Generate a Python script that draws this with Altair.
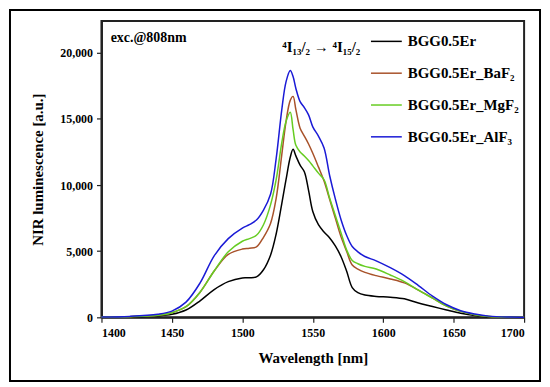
import altair as alt
import pandas as pd

wavelength = [1400, 1420, 1440, 1450, 1460, 1470, 1480, 1490, 1500, 1505, 1510, 1515,
              1520, 1524, 1528, 1531, 1534, 1536, 1538, 1541, 1544, 1547, 1550, 1554,
              1558, 1562, 1566, 1570, 1574, 1578, 1582, 1587, 1595, 1605, 1615, 1625,
              1635, 1645, 1655, 1665, 1675, 1690, 1700]

bgg = [15, 40, 110, 225, 550, 1250, 2100, 2700, 2980, 2990, 3060, 3600,
       4700, 6300, 8600, 10400, 12100, 12700, 12200, 11500, 11000, 9600, 8000, 7000,
       6450, 6000, 5400, 4600, 3500, 2250, 1860, 1680, 1580, 1520, 1400, 1080,
       820, 550, 300, 130, 45, 12, 5]

baf2 = [20, 50, 160, 350, 800, 1900, 3500, 4750, 5160, 5220, 5320, 6050,
        7100, 9000, 12300, 14800, 16400, 16700, 15700, 14300, 13700, 13100, 12400, 11370,
        10300, 8900, 7500, 6100, 5000, 3950, 3650, 3400, 3150, 2900, 2600, 2050,
        1450, 850, 450, 200, 70, 15, 5]

mgf2 = [20, 50, 160, 350, 800, 1900, 3500, 4950, 5750, 5950, 6200, 7000,
        8500, 10400, 13200, 14800, 15500, 14200, 13000, 12500, 12200, 11850, 11450, 10900,
        10400, 9000, 7700, 6400, 5100, 4300, 4050, 3850, 3650, 3200, 2700, 2050,
        1450, 850, 450, 200, 70, 15, 5]

alf3 = [25, 70, 230, 470, 1150, 2600, 4650, 5950, 6750, 7000, 7350, 8100,
        9300, 12000, 15700, 17800, 18650, 18200, 17300, 16300, 15850, 15300, 14400, 13700,
        12800, 10700, 8950, 7400, 6200, 5350, 4950, 4600, 4270, 3750, 3150, 2400,
        1600, 950, 500, 250, 90, 20, 8]

series_names = ["BGG0.5Er", "BGG0.5Er_BaF₂", "BGG0.5Er_MgF₂", "BGG0.5Er_AlF₃"]
series_colors = ["#000000", "#a8522a", "#66cc22", "#1a1ad6"]

x_all_ticks = [1400, 1425, 1450, 1475, 1500, 1525, 1550, 1575, 1600, 1625, 1650, 1675, 1700]
y_all_ticks = [0, 2500, 5000, 7500, 10000, 12500, 15000, 17500, 20000]

rows = []
for name, vals in zip(series_names, [bgg, baf2, mgf2, alf3]):
    for w, v in zip(wavelength, vals):
        rows.append({"wavelength": w, "value": v, "sample": name})
df = pd.DataFrame(rows)

FONT = "Liberation Serif"

xscale = alt.Scale(domain=[1400, 1700], nice=False)
yscale = alt.Scale(domain=[0, 22400], nice=False)

lines = alt.Chart(df).mark_line(strokeWidth=1.5, interpolate="catmull-rom").encode(
    x=alt.X("wavelength:Q", scale=xscale,
            axis=alt.Axis(title="Wavelength [nm]", values=x_all_ticks,
                          labelExpr="datum.value % 50 === 0 ? datum.value : ''",
                          tickSize={"condition": {"test": "datum.value % 50 === 0", "value": 5}, "value": 3},
                          titleFontSize=15, titlePadding=12, labelPadding=5)),
    y=alt.Y("value:Q", scale=yscale,
            axis=alt.Axis(title="NIR luminescence [a.u.]", values=y_all_ticks, format=",",
                          labelExpr="datum.value % 5000 === 0 ? format(datum.value, ',') : ''",
                          tickSize={"condition": {"test": "datum.value % 5000 === 0", "value": 5}, "value": 3},
                          titleFontSize=15, titlePadding=14, labelPadding=4)),
    color=alt.Color("sample:N", sort=series_names,
                    scale=alt.Scale(domain=series_names, range=series_colors),
                    legend=alt.Legend(title=None, orient="none", legendX=270, legendY=4,
                                      symbolType="stroke", symbolSize=961, symbolStrokeWidth=1.5,
                                      labelFontSize=15, labelFontWeight="bold", labelFont=FONT,
                                      rowPadding=7, labelOffset=5, labelLimit=300)),
)

ann_df = pd.DataFrame({
    "wavelength": [1406.5, 1556],
    "value": [21100, 20400],
    "label": ["exc.@808nm", "⁴I₁₃/₂ → ⁴I₁₅/₂"],
})
ann = alt.Chart(ann_df).mark_text(font=FONT, fontWeight="bold", fontSize=14,
                                  align="left", baseline="middle", color="black").encode(
    x=alt.X("wavelength:Q", scale=xscale),
    y=alt.Y("value:Q", scale=yscale),
    text="label:N",
)
ann2 = ann.transform_filter("datum.label != 'exc.@808nm'").mark_text(
    font=FONT, fontWeight="bold", fontSize=15, align="center", baseline="middle", color="black")
ann1 = ann.transform_filter("datum.label == 'exc.@808nm'")

frame = alt.Chart(pd.DataFrame({"a": [0]})).mark_rect(
    fill="transparent", stroke="black", strokeWidth=2).encode(
    x=alt.value(-92), x2=alt.value(441), y=alt.value(-11), y2=alt.value(362))

chart = alt.layer(lines, ann1, ann2, frame).properties(
    width=425, height=298,
    padding={"left": 94, "top": 12, "right": 18, "bottom": 67},
    autosize=alt.AutoSizeParams(type="none"),
).configure_view(
    stroke="#222222", strokeWidth=2,
).configure_axis(
    labelFont=FONT, titleFont=FONT, labelFontWeight="bold", titleFontWeight="bold",
    labelFontSize=12, labelColor="black", titleColor="black",
    domainColor="#222222", domainWidth=2, tickColor="#222222", tickWidth=1.2,
    grid=False,
)

chart.save("out.html", embed_options={"renderer": "svg", "actions": False})
